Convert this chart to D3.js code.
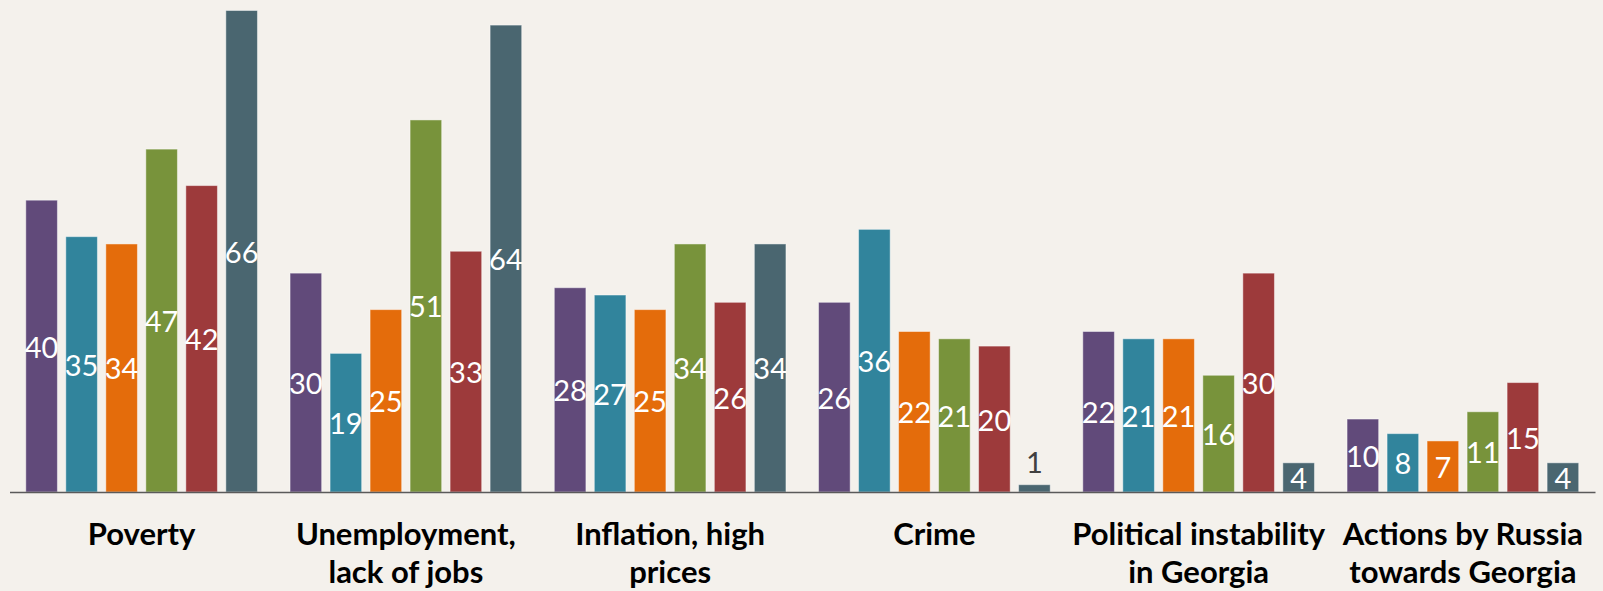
<!DOCTYPE html>
<meta charset="utf-8">
<style>
    body { margin: 0; background: #f4f1ec; }
    svg { display: block; }
    .bar { stroke: rgba(255,255,255,0.45); stroke-width: 1; }
    .val { font-family: Lato, "Open Sans", sans-serif; font-size: 29px; text-anchor: middle; }
    .axis--x .domain { stroke: #5a5a5a; stroke-width: 1.6; }
    .axis--x text { font-family: Lato, "Open Sans", sans-serif; font-size: 31px; font-weight: bold; fill: #000; }
</style>
<svg width="1603" height="591"></svg>
<script src="https://cdn.jsdelivr.net/npm/d3@7"></script>
<script>
    // categories (x axis), one label line per entry
    var categories = ["Poverty", "Unemployment", "Inflation", "Crime", "Political instability", "Actions by Russia"];
    var categoryLabels = [
        ["Poverty"],
        ["Unemployment,", "lack of jobs"],
        ["Inflation, high", "prices"],
        ["Crime"],
        ["Political instability", "in Georgia"],
        ["Actions by Russia", "towards Georgia"]
    ];

    // six series, no legend in the picture
    var series = ["s1", "s2", "s3", "s4", "s5", "s6"];
    var colors = ["#614a7a", "#31849c", "#e46c0b", "#78933b", "#9d3a3b", "#4a6670"];

    var s1 = [40, 30, 28, 26, 22, 10];
    var s2 = [35, 19, 27, 36, 21, 8];
    var s3 = [34, 25, 25, 22, 21, 7];
    var s4 = [47, 51, 34, 21, 16, 11];
    var s5 = [42, 33, 26, 20, 30, 15];
    var s6 = [66, 64, 34, 1, 4, 4];

    var values = [s1, s2, s3, s4, s5, s6];

    var svg = d3.select("svg"),
        baseY = 492;

    var x0 = d3.scaleBand().domain(categories).range([9.5, 1595]).padding(0);
    var x1 = d3.scaleBand().domain(series)
        .range([16.3, x0.bandwidth() - 16.3])
        .paddingInner(0.21).paddingOuter(0);
    var y = d3.scaleLinear().domain([0, 66]).range([baseY, 10.5]);

    // flatten to one record per bar
    var data = [];
    categories.forEach(function (c, i) {
        series.forEach(function (s, j) {
            data.push({ cat: c, ser: s, v: values[j][i], color: colors[j] });
        });
    });

    var g = svg.append("g");

    g.selectAll(".bar")
        .data(data)
        .enter().append("rect")
        .attr("class", "bar")
        .attr("x", function (d) { return x0(d.cat) + x1(d.ser); })
        .attr("y", function (d) { return y(d.v); })
        .attr("width", x1.bandwidth())
        .attr("height", function (d) { return baseY - y(d.v); })
        .attr("fill", function (d) { return d.color; });

    // value labels: centred inside the bar, above it when the bar is too short
    g.selectAll(".val")
        .data(data)
        .enter().append("text")
        .attr("class", "val")
        .attr("x", function (d) { return x0(d.cat) + x1(d.ser) + x1.bandwidth() / 2; })
        .attr("y", function (d) {
            return d.v < 3 ? y(d.v) - 23 : (y(d.v) + baseY) / 2;
        })
        .attr("dominant-baseline", "central")
        .attr("fill", function (d) { return d.v < 3 ? "#404040" : "#fff"; })
        .text(function (d) { return d.v; });

    var xAxis = d3.axisBottom(x0).tickSize(0).tickSizeOuter(0);

    var ax = svg.append("g")
        .attr("class", "axis axis--x")
        .attr("transform", "translate(0," + baseY + ")")
        .call(xAxis);

    ax.selectAll(".tick text").each(function (d, i) {
        var t = d3.select(this).text(null).attr("y", 53).attr("dy", null);
        categoryLabels[i].forEach(function (line, k) {
            t.append("tspan")
                .attr("x", 0)
                .attr("y", 53 + k * 38)
                .text(line);
        });
    });
</script>
